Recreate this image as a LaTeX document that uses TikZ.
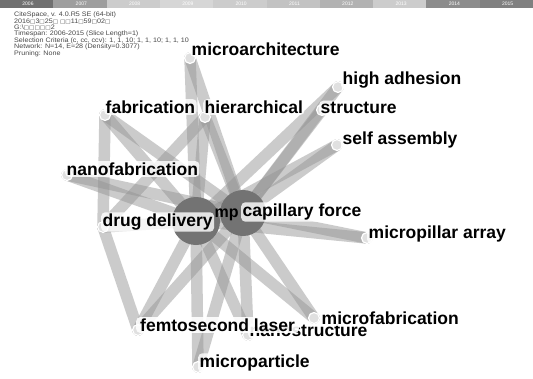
\documentclass[tikz,border=0pt]{standalone}
\usepackage{graphicx}
\usepackage{fontspec}
\setmainfont{Liberation Sans}
\newfontfamily\symfont{DejaVu Sans}
\newcommand{\bx}[1]{{\symfont\fontsize{5.2}{5}\selectfont #1}}
\begin{document}
\begin{tikzpicture}[x=1pt,y=-1pt,
  edge/.style={draw=black!42,line width=11.5pt,line cap=round,draw opacity=0.48},
  nodecap/.style={circle,fill=black!12,draw=white,line width=1.2pt,inner sep=0pt,minimum size=11pt},
  big/.style={circle,fill=black!55,inner sep=0pt,minimum size=48pt},
  lab/.style={anchor=west,fill=white,fill opacity=0.8,text opacity=1,rounded corners=4pt,inner sep=1.5pt,
    font=\bfseries\fontsize{17.5}{19}\selectfont},
  hdr/.style={anchor=west,inner sep=0pt,font=\fontsize{6.5}{7}\selectfont,text=black!72},
  yr/.style={inner sep=0pt,font=\fontsize{5}{5}\selectfont,text=white}]
\useasboundingbox (0,0) rectangle (533,378);
\fill[white] (0,0) rectangle (533,378);
% timeline bar
\foreach \i/\c in {0/56,1/38,2/20,3/16,4/20,5/24,6/30,7/20,8/45,9/50}{
  \fill[black!\c] ({\i*53.3},0) rectangle ({(\i+1)*53.3},8);
}
\foreach \i/\y in {0/2006,1/2007,2/2008,3/2009,4/2010,5/2011,6/2012,7/2013,8/2014,9/2015}{
  \node[yr] (y\y) at ({\i*53.3+28},4) {\y};
}
% header
\node[hdr] (h1) at (14,15) {\scalebox{1.1}[1]{CiteSpace, v. 4.0.R5 SE (64-bit)}};
\node[hdr] (h2) at (14,21.4) {\scalebox{1.1}[1]{2016\bx{□}3\bx{□}25\bx{□ □□}11\bx{□}59\bx{□}02\bx{□}}};
\node[hdr] (h3) at (14,27.8) {\scalebox{1.1}[1]{G:\textbackslash\bx{□□□□□}2}};
\node[hdr] (h4) at (14,34.2) {\scalebox{1.1}[1]{Timespan: 2006-2015 (Slice Length=1)}};
\node[hdr] (h5) at (14,40.6) {\scalebox{1.1}[1]{Selection Criteria (c, cc, ccv): 1, 1, 10; 1, 1, 10; 1, 1, 10}};
\node[hdr] (h6) at (14,47) {\scalebox{1.1}[1]{Network: N=14, E=28 (Density=0.3077)}};
\node[hdr] (h7) at (14,53.4) {\scalebox{1.1}[1]{Pruning: None}};
% node positions
\coordinate (ma) at (190,58);
\coordinate (fab) at (105,115);
\coordinate (hier) at (205,117);
\coordinate (nf) at (67,175);
\coordinate (dd) at (103,227);
\coordinate (A) at (196,221);
\coordinate (B) at (243,213);
\coordinate (ha) at (338,87);
\coordinate (st) at (322,110);
\coordinate (sa) at (337,145);
\coordinate (mpa) at (367,238);
\coordinate (mf) at (314,318);
\coordinate (ns) at (248,335);
\coordinate (fl) at (138,330);
\coordinate (mp) at (198,367);
% edges
\foreach \a/\b in {ma/A,ma/B,fab/dd,fab/A,fab/B,hier/dd,hier/A,hier/B,nf/A,nf/B,dd/fl,dd/A,
  ha/B,ha/A,st/B,sa/B,sa/A,mpa/B,mpa/A,mf/A,mf/B,ns/A,ns/B,fl/A,fl/B,mp/A,mp/B,A/B}{
  \draw[edge] (\a) -- (\b);
}
% caps
\foreach \n in {ma,fab,hier,nf,dd,ha,st,sa,mpa,mf,ns,fl,mp}{
  \node[nodecap] (c\n) at (\n) {};
}
\node[big] (bigA) at (A) {};
\node[big,minimum size=46pt] (bigB) at (B) {};
% labels
\node[lab] (lns) at (248,331) {nanostructure};
\node[lab] (lma) at (190,49) {microarchitecture};
\node[lab] (lfab) at (104,107) {fabrication};
\node[lab] (lhier) at (203,107) {hierarchical};
\node[lab] (lst) at (319,108) {structure};
\node[lab] (lha) at (341,80) {high adhesion};
\node[lab] (lsa) at (341,140) {self assembly};
\node[lab] (lnf) at (65,169) {nanofabrication};
\node[lab,fill=none,font=\bfseries\fontsize{16}{18}\selectfont] (lmp0) at (213,215) {mp};
\node[lab] (ldd) at (101,222) {drug delivery};
\node[lab] (lcf) at (241,212) {capillary force};
\node[lab] (lmpa) at (367,234) {micropillar array};
\node[lab] (lmf) at (320,318) {microfabrication};
\node[lab,fill opacity=0.9,inner xsep=4pt] (lfl) at (136,325) {femtosecond laser};
\node[lab] (lmp) at (198,363) {microparticle};
\end{tikzpicture}
\end{document}
